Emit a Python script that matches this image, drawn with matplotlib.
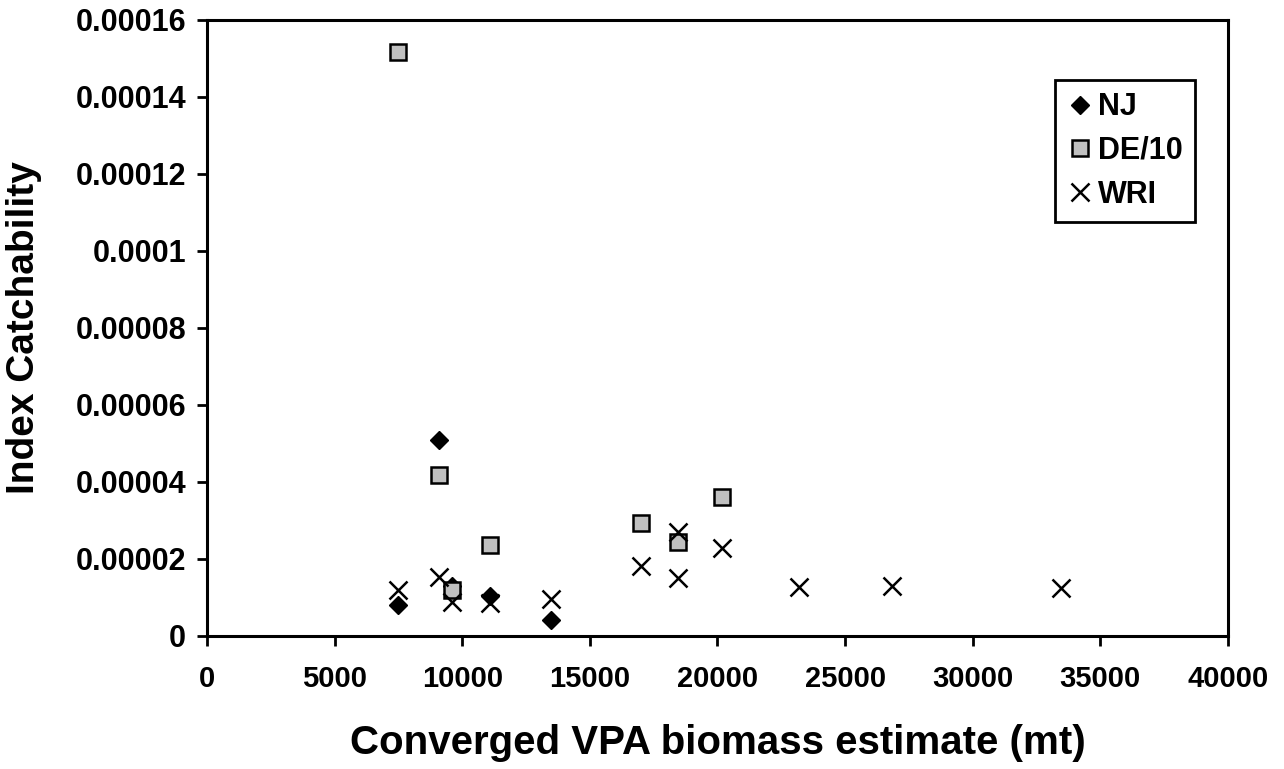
import matplotlib
matplotlib.use('Agg')
import matplotlib.pyplot as plt

# converged VPA biomass (mt) and index catchability per survey
nj_x = [7500, 9100, 9600, 11090, 13480]
nj_y = [8.1e-6, 5.09e-5, 1.30e-5, 1.05e-5, 4.2e-6]

de_x = [7500, 9100, 9600, 11090, 16990, 18470, 20170]
de_y = [1.517e-4, 4.18e-5, 1.19e-5, 2.36e-5, 2.94e-5, 2.45e-5, 3.60e-5]

wri_x = [7500, 9100, 9600, 11090, 13480, 16990, 18470, 18470, 20170, 23200, 26840, 33450]
wri_y = [1.19e-5, 1.54e-5, 8.9e-6, 8.5e-6, 9.5e-6, 1.82e-5, 2.71e-5, 1.50e-5, 2.28e-5, 1.28e-5, 1.30e-5, 1.25e-5]

xticks = [0, 5000, 10000, 15000, 20000, 25000, 30000, 35000, 40000]
yticks = [0, 0.00002, 0.00004, 0.00006, 0.00008, 0.0001, 0.00012, 0.00014, 0.00016]
ytick_labels = ['0', '0.00002', '0.00004', '0.00006', '0.00008', '0.0001', '0.00012', '0.00014', '0.00016']

matplotlib.rcParams['font.family'] = 'Liberation Sans'
matplotlib.rcParams['font.weight'] = 'bold'

fig = plt.figure(figsize=(12.84, 7.69), dpi=100)
ax = fig.add_axes([0.1612, 0.173, 0.7952, 0.801])

ax.plot(nj_x, nj_y, linestyle='none', marker='D', markersize=9.5, color='black', label='NJ')
ax.plot(de_x, de_y, linestyle='none', marker='s', markersize=12, markerfacecolor='#c0c0c0',
        markeredgecolor='black', markeredgewidth=1.8, label='DE/10')
ax.plot(wri_x, wri_y, linestyle='none', marker='x', markersize=13, markeredgewidth=1.8,
        color='black', label='WRI')

ax.set_xlim(0, 40000)
ax.set_ylim(0, 0.00016)
ax.set_xticks(xticks)
ax.set_xticklabels([str(v) for v in xticks])
ax.set_yticks(yticks)
ax.set_yticklabels(ytick_labels)

for s in ax.spines.values():
    s.set_linewidth(2.2)
ax.tick_params(axis='both', direction='out', length=7, width=2, pad=8)
ax.tick_params(axis='y', labelsize=22)
ax.tick_params(axis='x', labelsize=21, pad=14)

ax.set_xlabel('Converged VPA biomass estimate (mt)', fontsize=29, fontweight='bold', labelpad=22)
ax.set_ylabel('Index Catchability', fontsize=28, fontweight='bold', labelpad=24)

leg = ax.legend(loc='upper right', bbox_to_anchor=(0.9307, 0.896), bbox_transform=fig.transFigure,
                fontsize=22, frameon=True, fancybox=False, edgecolor='black', framealpha=1,
                handlelength=0.8, handletextpad=0.2, labelspacing=0.45, borderpad=0.4,
                borderaxespad=0)
leg.get_frame().set_linewidth(2)

fig.savefig('out.png', dpi=100)
